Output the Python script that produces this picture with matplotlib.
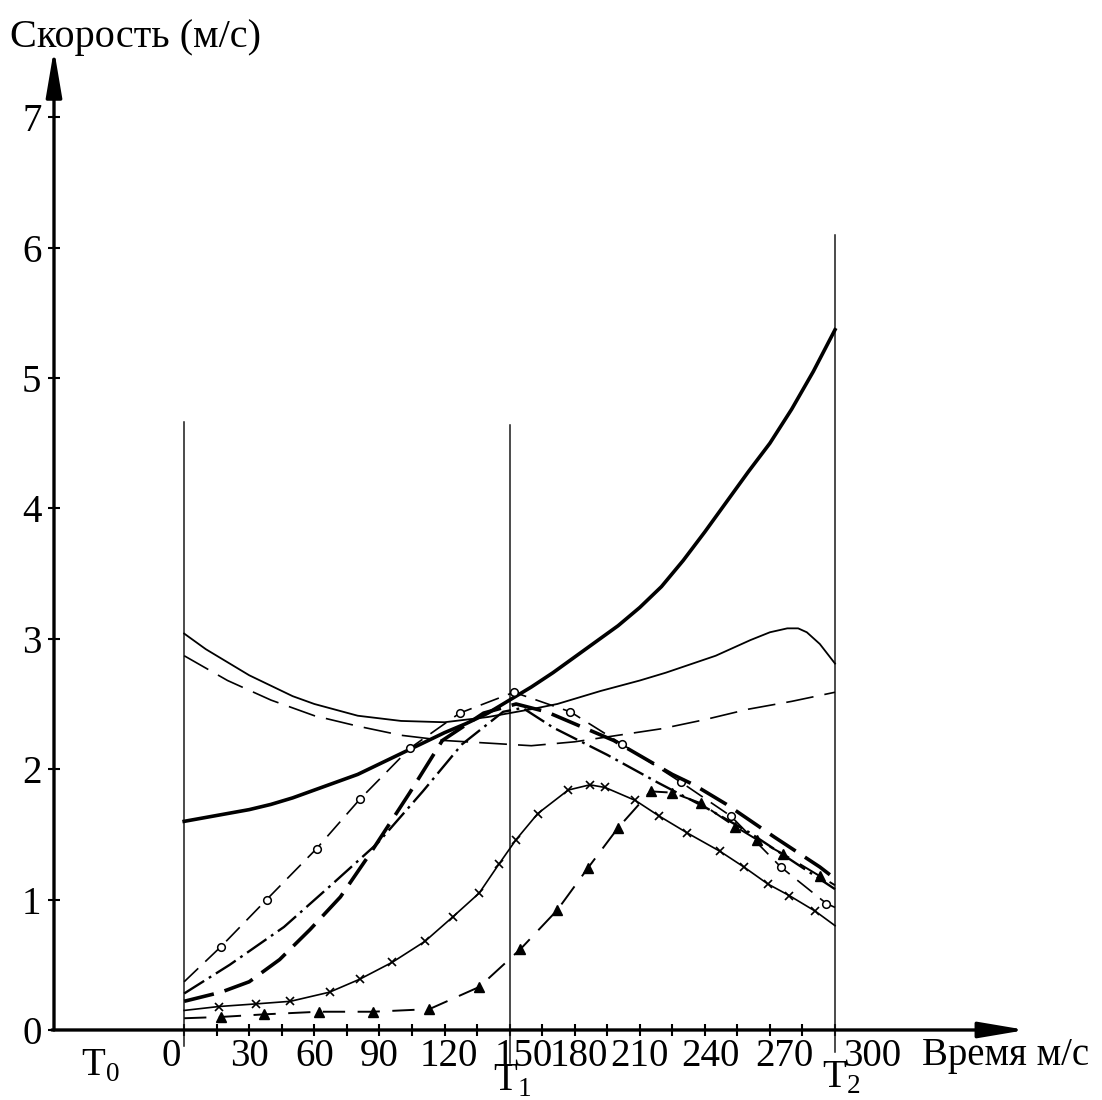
import numpy as np
import matplotlib
matplotlib.use('Agg')
import matplotlib.pyplot as plt
from matplotlib.transforms import ScaledTranslation

plt.rcParams['font.family'] = 'Liberation Serif'
plt.rcParams['mathtext.fontset'] = 'custom'
plt.rcParams['mathtext.rm'] = 'Liberation Serif'
plt.rcParams['lines.scale_dashes'] = False

# кривые скорости, t (мс) -> v (м/с)
t_a = [0, 10, 20, 30, 40, 50, 60, 70, 80, 90, 100, 110, 120, 130, 140, 150, 160, 170, 180,
       190, 200, 210, 220, 230, 240, 250, 260, 270, 280, 290, 300]
v_a = [1.60, 1.63, 1.66, 1.69, 1.73, 1.78, 1.84, 1.90, 1.96, 2.04, 2.12, 2.20, 2.28, 2.35,
       2.43, 2.53, 2.63, 2.74, 2.86, 2.98, 3.10, 3.24, 3.40, 3.60, 3.82, 4.05, 4.28, 4.50,
       4.76, 5.05, 5.37]

t_b = [0, 10, 20, 30, 40, 50, 60, 80, 100, 120, 140, 160, 172, 192, 210, 222, 245, 261, 270,
       278, 283, 287, 293, 300]
v_b = [3.04, 2.92, 2.82, 2.72, 2.64, 2.56, 2.50, 2.41, 2.37, 2.36, 2.40, 2.46, 2.50, 2.60,
       2.68, 2.74, 2.87, 2.99, 3.05, 3.08, 3.08, 3.05, 2.96, 2.81]

t_c = [0, 20, 40, 60, 80, 100, 120, 140, 160, 180, 200, 220, 240, 260, 280, 300]
v_c = [2.87, 2.68, 2.53, 2.41, 2.33, 2.26, 2.22, 2.20, 2.18, 2.21, 2.26, 2.31, 2.38, 2.46, 2.52, 2.59]

t_d = [0, 17, 38, 61, 81, 104, 127, 152, 178, 202, 229, 252, 275, 296, 300]
v_d = [0.37, 0.64, 1.00, 1.39, 1.77, 2.16, 2.43, 2.59, 2.44, 2.19, 1.90, 1.64, 1.25, 0.97, 0.94]

t_e = [0, 21, 46, 67, 89, 110, 128, 147, 156, 170, 195, 218, 241, 260, 280, 300]
v_e = [0.28, 0.50, 0.79, 1.10, 1.43, 1.83, 2.19, 2.44, 2.47, 2.32, 2.11, 1.90, 1.70, 1.52, 1.30, 1.08]

t_f = [0, 17, 30, 44, 58, 72, 86, 104, 119, 138, 153, 167, 198, 225, 235, 250, 272, 293, 300]
v_f = [0.22, 0.29, 0.37, 0.54, 0.77, 1.02, 1.36, 1.82, 2.22, 2.43, 2.50, 2.44, 2.22, 1.96, 1.88, 1.73, 1.48, 1.25, 1.16]

t_g = [0, 16, 33, 49, 67, 81, 96, 111, 124, 136, 145, 153, 163, 177, 187, 194, 208, 219, 232, 247, 258, 269, 279, 291, 300]
v_g = [0.15, 0.18, 0.20, 0.22, 0.29, 0.39, 0.52, 0.68, 0.87, 1.05, 1.27, 1.46, 1.66, 1.84, 1.88, 1.86, 1.76, 1.64, 1.51, 1.37, 1.25, 1.12, 1.03, 0.91, 0.80]

t_h = [0, 17, 37, 62, 87, 113, 136, 155, 172, 186, 200, 215, 225, 238, 254, 264, 276, 293, 300]
v_h = [0.09, 0.10, 0.12, 0.14, 0.14, 0.16, 0.33, 0.62, 0.92, 1.24, 1.55, 1.83, 1.82, 1.74, 1.56, 1.46, 1.35, 1.18, 1.11]

# вертикальные линии T0/T1/T2
guide_x = [0, 150, 300]
guide_top = [4.66, 4.64, 6.10]
guide_bottom = [-0.12, -0.25, -0.17]

y_ticks = [0, 1, 2, 3, 4, 5, 6, 7]
x_ticks = [0, 30, 60, 90, 120, 150, 180, 210, 240, 270, 300]
x_minor = [15, 45, 75, 105, 135, 165, 195, 225, 255, 285]
x_label_shift = {0: -13, 120: 4, 150: 14, 180: 4, 240: 6, 270: 14, 300: 37}

fig = plt.figure(figsize=(11.02, 11.0), dpi=100)
ax = fig.add_axes([0.049, 0.0103, 0.9056, 0.9543])
ax.set_xlim(-60, 400)
ax.set_ylim(-0.45, 7.6)

for s in ['top', 'right', 'left', 'bottom']:
    ax.spines[s].set_visible(False)
ax.spines['bottom'].set_position(('data', 0))

# оси со стрелками
arrow = dict(arrowstyle='-|>,head_length=1.3,head_width=0.22', lw=2.4,
             color='black', mutation_scale=22, shrinkA=0, shrinkB=0)
ax.annotate('', xy=(-60, 7.52), xytext=(-60, 0), arrowprops=arrow, annotation_clip=False)
ax.annotate('', xy=(388, 0), xytext=(-61, 0), arrowprops=arrow, annotation_clip=False)

for gx, gt, gb in zip(guide_x, guide_top, guide_bottom):
    ax.plot([gx, gx], [gb, gt], color='0.1', lw=1.1, clip_on=False)

k = 'black'
ax.plot(t_a, v_a, color=k, lw=2.6, solid_joinstyle='round')
ax.plot(t_b, v_b, color=k, lw=1.3, solid_joinstyle='round')
ax.plot(t_c, v_c, color=k, lw=1.2, linestyle=(0, (20, 8)))
ax.plot(t_d, v_d, color=k, lw=1.2, linestyle=(0, (14, 7)),
        marker='o', ms=5.5, mfc='white', mec=k, mew=1.1, markevery=slice(1, -1))
ax.plot(t_e, v_e, color=k, lw=1.7, linestyle=(0, (17, 4, 2, 4)))
ax.plot(t_f, v_f, color=k, lw=2.6, linestyle=(0, (22, 8)))
ax.plot(t_g, v_g, color=k, lw=1.2, marker='x', ms=6, mew=1.2, markevery=slice(1, -1))
ax.plot(t_h, v_h, color=k, lw=1.4, linestyle=(0, (16, 9)),
        marker='^', ms=6.5, mfc=k, mec=k, markevery=slice(1, -1))

ax.set_yticks(y_ticks)
ax.set_yticklabels([str(v) for v in y_ticks])
ax.set_xticks(x_ticks)
ax.set_xticklabels([str(v) for v in x_ticks])
ax.set_xticks(x_minor, minor=True)
ax.tick_params(axis='both', which='both', direction='inout', length=8, width=1.5,
               labelsize=28, colors='black')
ax.tick_params(axis='y', pad=5)
ax.tick_params(axis='x', pad=2)

for val, lab in zip(x_ticks, ax.get_xticklabels()):
    dx = x_label_shift.get(val, 0)
    if dx:
        lab.set_transform(lab.get_transform() + ScaledTranslation(dx / 100, 0, fig.dpi_scale_trans))

ax.text(-38.7, -0.28, r'T$_\mathrm{0}$', fontsize=28, ha='center', va='center')
ax.text(151, -0.39, r'T$_\mathrm{1}$', fontsize=28, ha='center', va='center')
ax.text(303, -0.37, r'T$_\mathrm{2}$', fontsize=28, ha='center', va='center')

fig.text(922 / 1102, 1 - 1056 / 1100, 'Время м/с', fontsize=28, ha='left', va='center')
fig.text(10 / 1102, 1 - 38 / 1100, 'Скорость (м/с)', fontsize=29, ha='left', va='center')

fig.savefig('out.png', dpi=100, facecolor='white')
